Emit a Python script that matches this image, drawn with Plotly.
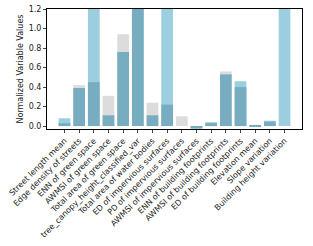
import plotly.graph_objects as go

categories = [
    "Street length mean",
    "Edge density of streets",
    "ENN of green space",
    "AWMSI of green space",
    "Total area of green space",
    "tree_canopy_height_classified_var",
    "Total area of water bodies",
    "ED of impervious surfaces",
    "PD of impervious surfaces",
    "AWMSI of impervious surfaces",
    "ENN of building footprints",
    "AWMSI of building footprints",
    "ED of building footprints",
    "Elevation mean",
    "Slope variation",
    "Building height variation",
]

background_values = [0.08, 0.42, 1.50, 0.31, 0.94, 1.50, 0.24, 1.50, 0.10, -0.04, 0.04, 0.56, 0.46, 0.01, 0.055, 1.50]
background_is_blue = [True, False, True, False, False, True, False, True, False, True, True, False, True, False, True, True]
foreground_values = [0.03, 0.39, 0.45, 0.11, 0.76, 1.50, 0.11, 0.22, 0.0, -0.02, 0.03, 0.53, 0.40, 0.012, 0.045, 0.0]

x_idx = list(range(len(categories)))
LIGHT_BLUE = "#9bcfe0"
LIGHT_GRAY = "#dcdcdc"
DARK = "#78acc0"

fig = go.Figure()
fig.add_trace(go.Bar(
    x=x_idx, y=background_values, width=0.8,
    marker=dict(color=[LIGHT_BLUE if b else LIGHT_GRAY for b in background_is_blue], line=dict(width=0)),
    showlegend=False,
))
fig.add_trace(go.Bar(
    x=x_idx, y=foreground_values, width=0.8,
    marker=dict(color=DARK, line=dict(width=0)),
    showlegend=False,
))

fig.update_layout(
    width=313, height=246,
    margin=dict(l=47, r=11, t=5, b=117),
    barmode="overlay",
    paper_bgcolor="white", plot_bgcolor="white",
    font=dict(family="DejaVu Sans", color="#222222"),
    xaxis=dict(
        range=[-1.19, 16.19], tickmode="array", tickvals=x_idx, ticktext=categories,
        tickangle=-45, tickfont=dict(size=8), ticks="outside", ticklen=3, tickwidth=0.8,
        showline=True, linecolor="black", linewidth=1, mirror=True, showgrid=False, zeroline=False,
    ),
    yaxis=dict(
        range=[-0.03, 1.2], tickmode="array", tickvals=[0, 0.2, 0.4, 0.6, 0.8, 1.0, 1.2],
        ticktext=["0.0", "0.2", "0.4", "0.6", "0.8", "1.0", "1.2"],
        tickfont=dict(size=8), ticks="outside", ticklen=3, tickwidth=0.8,
        ticklabeloverflow="allow",
        showline=True, linecolor="black", linewidth=1, mirror=True, showgrid=False, zeroline=False,
        title=dict(text="Normalized Variable Values", font=dict(size=8), standoff=3),
    ),
)

fig.write_html("out.html")
